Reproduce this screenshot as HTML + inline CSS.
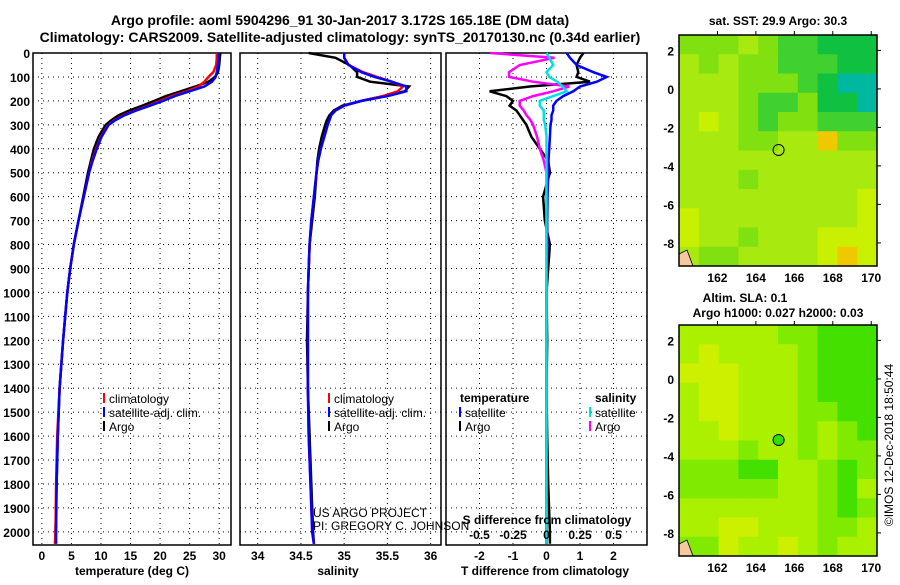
<!DOCTYPE html>
<html><head><meta charset="utf-8">
<style>
body{margin:0;background:#fff;width:900px;height:580px;overflow:hidden;font-family:"Liberation Sans",Arial,sans-serif;}
svg text{font-family:"Liberation Sans",Arial,sans-serif;font-weight:bold;}
</style></head>
<body>
<svg id="chart" width="900" height="580" viewBox="0 0 900 580" xmlns="http://www.w3.org/2000/svg">
<text x="340" y="25" font-size="14" text-anchor="middle">Argo profile: aoml 5904296_91 30-Jan-2017 3.172S 165.18E (DM data)</text>
<text x="340" y="42" font-size="14" text-anchor="middle">Climatology: CARS2009. Satellite-adjusted climatology: synTS_20170130.nc (0.34d earlier)</text>
<g id="g1"></g>
<g id="g2"></g>
<g id="g3"></g>
<g id="m1"></g>
<g id="m2"></g>
<text x="778" y="25" font-size="12" text-anchor="middle">sat. SST: 29.9 Argo: 30.3</text>
<text x="745" y="302" font-size="12" text-anchor="middle">Altim. SLA: 0.1</text>
<text x="778" y="317" font-size="12" text-anchor="middle">Argo h1000: 0.027 h2000: 0.03</text>
<text x="0" y="0" font-size="12" transform="translate(893,445) rotate(-90)" text-anchor="middle" style="font-weight:normal">©IMOS 12-Dec-2018 18:50:44</text>
<text x="313" y="517" font-size="12" style="font-weight:normal">US ARGO PROJECT</text>
<text x="313" y="530" font-size="12" style="font-weight:normal">PI: GREGORY C. JOHNSON</text>
</svg>
<script>
const depths=[0,20,50,80,100,120,140,160,180,200,220,240,260,280,300,350,400,450,500,600,700,800,900,1000,1200,1400,1600,1800,2000,2050];
const tempArgo=[30.2,30.1,30.0,29.8,29.3,28.2,26,23.5,21,19,17,14.8,13,11.8,10.8,9.6,8.8,8.3,7.8,7.0,6.2,5.4,4.8,4.3,3.6,3.0,2.7,2.5,2.3,2.3];
const tempClim=[29.6,29.6,29.5,29.0,28.2,27.5,26.5,24.5,22,20,18,15.8,13.8,12.3,11.2,10,9.2,8.5,8,7.1,6.2,5.4,4.8,4.3,3.6,3.0,2.6,2.4,2.3,2.2];
const tempSat=[29.9,29.9,29.8,29.6,29.4,28.8,27.5,25,22.5,20.5,18.3,16,14,12.5,11.3,10.1,9.3,8.6,8,7.1,6.2,5.4,4.8,4.3,3.6,3.0,2.7,2.5,2.4,2.4];
const salArgo=[34.59,34.9,35.06,35.15,35.15,35.3,35.75,35.7,35.45,35.2,34.98,34.88,34.83,34.8,34.78,34.74,34.71,34.69,34.68,34.66,34.63,34.6,34.59,34.58,34.57,34.58,34.6,34.62,34.64,34.65];
const salClim=[35.0,35.0,35.05,35.22,35.38,35.55,35.68,35.62,35.45,35.2,35.0,34.9,34.85,34.83,34.81,34.77,34.73,34.7,34.68,34.65,34.62,34.6,34.59,34.58,34.58,34.58,34.59,34.61,34.63,34.65];
const salSat=[35.0,35.0,35.05,35.2,35.35,35.55,35.72,35.72,35.5,35.2,35.0,34.9,34.85,34.83,34.81,34.77,34.73,34.7,34.68,34.65,34.62,34.6,34.59,34.58,34.58,34.58,34.59,34.61,34.63,34.65];
const dTArgo=[1.1,1.0,0.9,0.95,0.9,1.3,-0.5,-1.7,-1.2,-1.0,-1.1,-0.9,-0.8,-0.7,-0.6,-0.45,-0.2,0.05,0.1,-0.1,-0.05,0.1,0.05,0,0.02,0,0.02,0.05,0.1,0.1];
const dTSat=[0.6,0.7,0.9,1.4,1.8,1.5,1.0,0.8,0.5,0.3,0.2,0.2,0.15,0.15,0.12,0.1,0.08,0.06,0.05,0.03,0.02,0.02,0.01,0,0,0,0,0,0,0];
const dSArgo=[-0.42,0.06,-0.2,-0.28,-0.28,-0.1,0.17,0.05,-0.1,-0.2,-0.2,-0.17,-0.15,-0.12,-0.1,-0.07,-0.05,-0.02,0,0,0,0,0,0,0,0,0,0,0,0];
const dSSat=[0,0.02,0.05,0.0,0.02,0.08,0.12,0.15,0.05,-0.05,-0.05,-0.02,-0.02,-0.02,-0.01,0,0,0,0,0,0,0,0,0,0,0,0,0,0,0];
const depthTicks=[0,100,200,300,400,500,600,700,800,900,1000,1100,1200,1300,1400,1500,1600,1700,1800,1900,2000];
const tempTicks=[0,5,10,15,20,25,30];
const salTicks=[34,34.5,35,35.5,36];
const dTTicks=[-2,-1,0,1,2];
const dSTicks=[-0.5,-0.25,0,0.25,0.5];
const lonTicks=[162,164,166,168,170];
const latTicks=[2,0,-2,-4,-6,-8];
const sstGrid=[
[2,2,2,1,2,3,3,4,4,4],[1,2,1,2,2,3,3,3,4,4],[1,1,1,2,2,2,3,4,5,5],[1,1,1,2,3,3,2,4,4,5],
[1,0,1,2,3,2,2,3,3,3],[1,1,1,2,2,1,1,6,2,2],[1,1,1,1,1,1,1,1,1,1],[1,1,1,2,1,1,1,1,1,1],
[1,1,1,1,1,1,1,1,1,0],[0,1,1,1,1,1,1,1,1,0],[0,1,1,2,1,1,1,0,0,0],[1,2,2,1,1,1,1,0,6,0]];
const slaGrid=[
[1,1,1,1,1,2,2,3,3,3],[1,0,1,1,1,1,2,3,3,3],[0,0,0,1,1,1,2,3,3,3],[1,0,0,1,1,1,2,3,3,3],
[1,0,0,1,1,1,2,2,3,3],[1,1,0,1,1,1,2,1,2,3],[1,1,1,2,1,1,2,1,2,2],[2,2,2,3,3,1,1,2,3,2],
[2,2,2,2,2,1,1,2,3,1],[1,1,1,1,1,1,1,2,3,2],[1,1,0,0,1,1,1,2,2,1],[2,2,0,1,1,0,1,2,1,1]];
const floatLon=165.18, floatLat=-3.172;

const NS='http://www.w3.org/2000/svg';
function mk(p,tag,at){const e=document.createElementNS(NS,tag);for(const k in at)e.setAttribute(k,at[k]);p.appendChild(e);return e;}
const pTop=53,pBot=545,dMax=2055;
const yD=d=>pTop+d*(pBot-pTop)/dMax;

function panel(g,x0,x1,vmin,vmax,ticks,fmt,name){
  const xs=v=>x0+(v-vmin)*(x1-x0)/(vmax-vmin);
  for(const t of ticks){const l=mk(g,'line',{x1:xs(t),x2:xs(t),y1:pTop,y2:pBot,stroke:'#000','stroke-dasharray':'1 4'});
    
    
    const tx=mk(g,'text',{x:xs(t),y:pBot+15,'font-size':12,'text-anchor':'middle'});tx.textContent=fmt(t);
    
    }
  for(const d of depthTicks){if(d>0){const l=mk(g,'line',{x1:x0,x2:x1,y1:yD(d),y2:yD(d),stroke:'#000','stroke-dasharray':'1 4'});
    
    }}
  const r=mk(g,'rect',{x:x0,y:pTop,width:x1-x0,height:pBot-pTop,fill:'none',stroke:'#000','stroke-width':1.5});
  
  
  return xs;
}
function line(g,xs,vals,col,name,w){
  const pts=vals.map((v,i)=>xs(v).toFixed(1)+','+yD(depths[i]).toFixed(1)).join(' ');
  const p=mk(g,'polyline',{points:pts,fill:'none',stroke:col,'stroke-width':w||2.5});
  
  
}
function txt(g,x,y,s,name,anchor){const t=mk(g,'text',{x:x,y:y,'font-size':12,'text-anchor':anchor||'start'});t.textContent=s;
  
  return t;}
function legItem(g,x,y,col,s,name){const l=mk(g,'line',{x1:x,x2:x,y1:y-10,y2:y,stroke:col,'stroke-width':2});
  
  
  const t=txt(g,x+5,y,s,name);t.style.fontWeight='normal';}

const g1=document.getElementById('g1');
for(const d of depthTicks){txt(g1,30,yD(d)+5,String(d),'depth-tick','end');}
const xT=panel(g1,33,231,-1.5,32,tempTicks,String,'temperature');
line(g1,xT,tempArgo,'#000','temperature-argo-line');
line(g1,xT,tempClim,'#ff0000','temperature-climatology-line');
line(g1,xT,tempSat,'#0000ff','temperature-satellite-line');
txt(g1,132,575,'temperature (deg C)','temperature-axis-title','middle');
legItem(g1,104,403,'#ff0000','climatology','temp-legend-climatology');
legItem(g1,104,417,'#0000ff','satellite-adj. clim.','temp-legend-satellite');
legItem(g1,104,431,'#000','Argo','temp-legend-argo');

const g2=document.getElementById('g2');
const xS=panel(g2,240,441,33.795,36.12,salTicks,String,'salinity');
line(g2,xS,salArgo,'#000','salinity-argo-line');
line(g2,xS,salClim,'#ff0000','salinity-climatology-line');
line(g2,xS,salSat,'#0000ff','salinity-satellite-line');
txt(g2,338,575,'salinity','salinity-axis-title','middle');
legItem(g2,329,403,'#ff0000','climatology','sal-legend-climatology');
legItem(g2,329,417,'#0000ff','satellite-adj. clim.','sal-legend-satellite');
legItem(g2,329,431,'#000','Argo','sal-legend-argo');

const g3=document.getElementById('g3');
const xDT=panel(g3,446,647,-3.0,3.0,dTTicks,String,'t-difference');
const xDS=v=>xDT(v*4);
line(g3,xDT,dTArgo,'#000','t-diff-argo-line');
line(g3,xDS,dSArgo,'#ff00ff','s-diff-argo-line');
line(g3,xDT,dTSat,'#0000ff','t-diff-satellite-line');
line(g3,xDS,dSSat,'#00e0e0','s-diff-satellite-line');
for(const t of dSTicks){txt(g3,xDS(t),539,String(t),'s-difference-tick','middle');}
txt(g3,547,524,'S difference from climatology','s-difference-axis-title','middle');
txt(g3,545,575,'T difference from climatology','t-difference-axis-title','middle');
txt(g3,460,402,'temperature','diff-legend-temperature-header');
legItem(g3,460,417,'#0000ff','satellite','diff-legend-t-satellite');
legItem(g3,460,431,'#000','Argo','diff-legend-t-argo');
txt(g3,595,402,'salinity','diff-legend-salinity-header');
legItem(g3,590,417,'#00e0e0','satellite','diff-legend-s-satellite');
legItem(g3,590,431,'#ff00ff','Argo','diff-legend-s-argo');

const sstPal=['#c8f000','#a8ea10','#80e010','#40d030','#10c040','#00b8a0','#f0c800'];
const slaPal=['#ccf000','#aaf000','#80ea00','#44e000'];
function map(g,yTop,grid,pal,name,dotFill){
  const x0=679,x1=877,y0=yTop,y1=yTop+231;
  const lonMin=160.0,lonMax=170.3,latMax=2.8,latMin=-9.2;
  const xl=v=>x0+(v-lonMin)*(x1-x0)/(lonMax-lonMin);
  const yl=v=>y0+(latMax-v)*(y1-y0)/(latMax-latMin);
  const rows=grid.length,cols=grid[0].length,cw=(x1-x0)/cols,ch=(y1-y0)/rows;
  grid.forEach((row,i)=>row.forEach((c,j)=>{const r=mk(g,'rect',{x:x0+j*cw,y:y0+i*ch,width:cw+0.5,height:ch+0.5,fill:pal[c]});
    
    }));
  const land=mk(g,'path',{d:`M${x0} ${y1-12} L${x0+8} ${y1-16} L${x0+14} ${y1} L${x0} ${y1} Z`,fill:'#f5c8a0',stroke:'#000','stroke-width':0.8});
  
  
  const fr=mk(g,'rect',{x:x0,y:y0,width:x1-x0,height:y1-y0,fill:'none',stroke:'#000','stroke-width':1.5});
  
  
  for(const t of lonTicks){const tl=mk(g,'line',{x1:xl(t),x2:xl(t),y1:y0-4,y2:y0,stroke:'#000'});
    
    
    txt(g,xl(t),y1+16,String(t),name+'-lon-tick','middle');}
  for(const t of latTicks){const tl=mk(g,'line',{x1:x1,x2:x1+4,y1:yl(t),y2:yl(t),stroke:'#000'});
    
    
    txt(g,x0-5,yl(t)+5,String(t),name+'-lat-tick','end');}
  const c=mk(g,'circle',{cx:xl(floatLon),cy:yl(floatLat),r:5.5,fill:dotFill,stroke:'#000','stroke-width':1});
  
  
}
map(document.getElementById('m1'),35,sstGrid,sstPal,'sst-map','none');
map(document.getElementById('m2'),325,slaGrid,slaPal,'sla-map','#30e000');
</script>
</body></html>
